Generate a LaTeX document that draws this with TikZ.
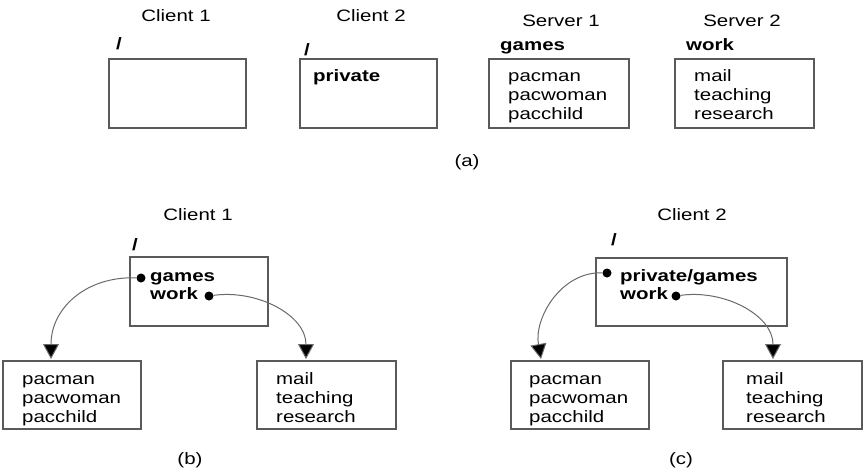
\documentclass[tikz,border=0pt]{standalone}
\usepackage{fontspec}
\setmainfont{Liberation Sans}[FakeStretch=1.24]
\usetikzlibrary{arrows.meta}
\definecolor{boxgray}{HTML}{5A5A5A}
\definecolor{linegray}{HTML}{6A6A6A}
\begin{document}
\begin{tikzpicture}[x=1pt,y=-1pt,
  font=\fontsize{16.5}{19}\selectfont,
  box/.style={draw=boxgray, line width=1.1pt, inner sep=0pt, minimum height=69pt},
  txt/.style={anchor=base west, inner sep=0pt},
  ctr/.style={anchor=base, inner sep=0pt},
  dotnode/.style={circle, fill=black, inner sep=0pt, minimum size=9pt},
  link/.style={draw=linegray, line width=1pt, -{Triangle[width=16pt,length=15pt,fill=black]}}]
\useasboundingbox (0,0) rectangle (867,471);
% ---------- (a) ----------
\node[ctr] (la1) at (176,21) {Client 1};
\node[txt] (sa1) at (116,49) {\textbf{/}};
\node[box, minimum width=137pt] (ba1) at (177.5,93.5) {};
\node[ctr] (la2) at (371,21) {Client 2};
\node[txt] (sa2) at (304,55) {\textbf{/}};
\node[box, minimum width=137pt] (ba2) at (368.5,93.5) {};
\node[txt] (pa2) at (313,81) {\textbf{private}};
\node[ctr] (ls1) at (561,27) {Server 1};
\node[txt] (gs1) at (500,50) {\textbf{games}};
\node[box, minimum width=140pt] (bs1) at (559,93.5) {};
\node[txt] (s1a) at (508,81) {pacman};
\node[txt] (s1b) at (508,100) {pacwoman};
\node[txt] (s1c) at (508,119) {pacchild};
\node[ctr] (ls2) at (742,27) {Server 2};
\node[txt] (ws2) at (686,50) {\textbf{work}};
\node[box, minimum width=139pt] (bs2) at (744.5,93.5) {};
\node[txt] (s2a) at (694,81) {mail};
\node[txt] (s2b) at (694,100) {teaching};
\node[txt] (s2c) at (694,119) {research};
\node[ctr] (capa) at (467,166) {(a)};
% ---------- (b) ----------
\node[ctr] (lb) at (198,220) {Client 1};
\node[txt] (sb) at (132,250) {\textbf{/}};
\node[box, minimum width=138pt] (bb) at (199,291.5) {};
\node[txt] (gb) at (150,281) {\textbf{games}};
\node[txt] (wb) at (150,299) {\textbf{work}};
\node[dotnode] (dgb) at (141,278) {};
\node[dotnode] (dwb) at (209,296) {};
\node[box, minimum width=138pt, minimum height=68pt] (blb) at (72,395) {};
\node[txt] (b1a) at (22,384) {pacman};
\node[txt] (b1b) at (22,403) {pacwoman};
\node[txt] (b1c) at (22,422) {pacchild};
\node[box, minimum width=139pt, minimum height=68pt] (brb) at (326.5,395) {};
\node[txt] (b2a) at (276,384) {mail};
\node[txt] (b2b) at (276,403) {teaching};
\node[txt] (b2c) at (276,422) {research};
\coordinate (tb1) at (51,359);
\coordinate (tb2) at (306,359);
\draw[link] (dgb) to[out=178,in=90,looseness=1.1] (tb1);
\draw[link] (dwb) to[out=8,in=90] (tb2);
\node[ctr] (capb) at (190,464) {(b)};
% ---------- (c) ----------
\node[ctr] (lc) at (692,220) {Client 2};
\node[txt] (sc) at (611,245) {\textbf{/}};
\node[box, minimum width=191pt, minimum height=68pt] (bc) at (691.5,292) {};
\node[txt] (gc) at (620,281) {\textbf{private/games}};
\node[txt] (wc) at (620,299) {\textbf{work}};
\node[dotnode] (dgc) at (607,273) {};
\node[dotnode] (dwc) at (676,296) {};
\node[box, minimum width=138pt, minimum height=68pt] (blc) at (580,395) {};
\node[txt] (c1a) at (529,384) {pacman};
\node[txt] (c1b) at (529,403) {pacwoman};
\node[txt] (c1c) at (529,422) {pacchild};
\node[box, minimum width=139pt, minimum height=68pt] (brc) at (792.5,395) {};
\node[txt] (c2a) at (746,384) {mail};
\node[txt] (c2b) at (746,403) {teaching};
\node[txt] (c2c) at (746,422) {research};
\coordinate (tc1) at (541,359);
\coordinate (tc2) at (773,359);
\draw[link] (dgc) to[out=178,in=100] (tc1);
\draw[link] (dwc) to[out=8,in=90] (tc2);
\node[ctr] (capc) at (681,464) {(c)};
\end{tikzpicture}
\end{document}
